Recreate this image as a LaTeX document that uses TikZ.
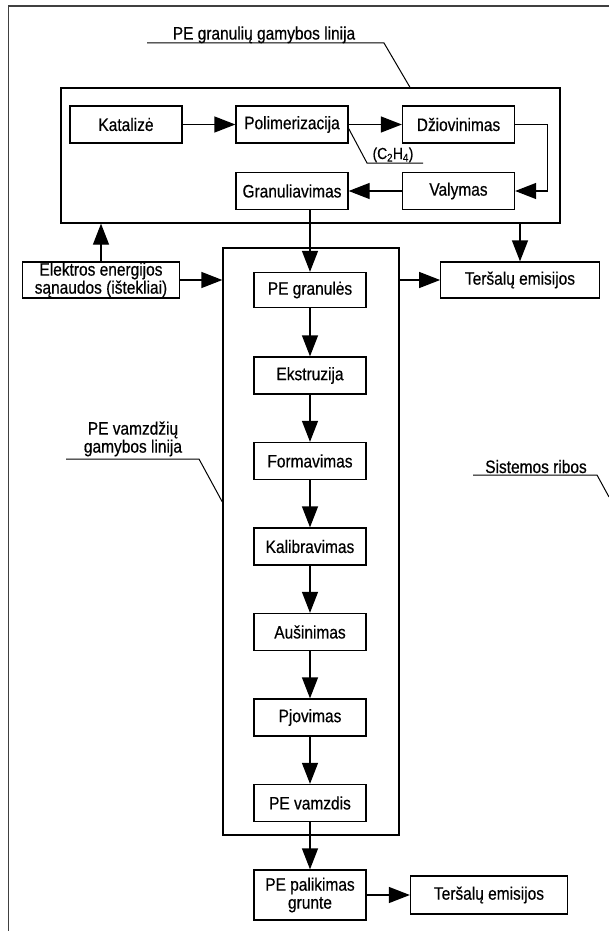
\documentclass[tikz,border=0pt]{standalone}
\usepackage{fontspec}
\setmainfont{Liberation Sans}[FakeStretch=0.86,FakeBold=0.5]
\usetikzlibrary{arrows.meta,positioning}
\tikzstyle{proc}=[draw, minimum width=112pt, minimum height=37pt, inner sep=0pt, align=center]
\tikzstyle{side}=[draw, minimum width=157pt, minimum height=36pt, inner sep=0pt, align=center]
\tikzstyle{line}=[draw, inner sep=0pt]
\tikzstyle{lbl}=[inner sep=0pt, align=center]
\tikzstyle{lead}=[line width=1pt]

\begin{document}
\begin{tikzpicture}[x=1pt,y=-1pt,line width=1.3pt,>={Triangle[length=21pt,width=16pt]},font=\fontsize{18}{18}\selectfont]
    \useasboundingbox (0,0) rectangle (609,931);
    % system boundary
    \draw[line width=1.5pt, black!75] (609,6) -- (8.5,6) -- (8.5,931);
    % granule line
    \node [proc] (kat) at (126,124.5) {Katalizė};
    \node [proc] (pol) [right of=kat,node distance=166pt] {Polimerizacija};
    \node [proc] (dz) [right of=pol,node distance=166.5pt] {Džiovinimas};
    \node [proc] (val) [below of=dz,node distance=66.5pt] {Valymas};
    \node [proc] (gran) [left of=val,node distance=166.5pt] {Granuliavimas};
    \node [line, minimum width=499pt, minimum height=135pt] (gline) at (310.5,155.5) {};
    \node [side] (elek) at (101,280) {Elektros energijos\\sąnaudos (ištekliai)};
    \node [side, minimum width=158.5pt] (ters) at (520,280) {Teršalų emisijos};
    % pipe line
    \node [line, minimum width=176pt, minimum height=587pt] (pline) at (311,541.5) {};
    \node [proc, minimum height=35pt] (granul) at (310,290) {PE granulės};
    \node [proc] (ekst) [below of=granul,node distance=85.5pt] {Ekstruzija};
    \node [proc] (form) [below of=ekst,node distance=85.5pt] {Formavimas};
    \node [proc] (kal) [below of=form,node distance=85.5pt] {Kalibravimas};
    \node [proc] (aus) [below of=kal,node distance=85.5pt] {Aušinimas};
    \node [proc] (pjov) [below of=aus,node distance=85.5pt] {Pjovimas};
    \node [proc] (vamz) [below of=pjov,node distance=85.5pt] {PE vamzdis};
    \node [proc, minimum height=50pt] (palik) [below of=vamz,node distance=92pt] {PE palikimas\\grunte};
    \node [side, minimum height=38pt] (ters2) [right of=palik,node distance=179pt] {Teršalų emisijos};
    % labels
    \node [lbl, anchor=base] (glbl) at (264,39.5) {PE granulių gamybos linija};
    \node [lbl, anchor=base, font=\fontsize{16}{16}\selectfont] (c2h4) at (393,159) {(C\textsubscript{2}H\textsubscript{4})};
    \node [lbl, anchor=south] (plbl) at (133,457) {PE vamzdžių\\gamybos linija};
    \node [lbl, anchor=base] (slbl) at (536,473) {Sistemos ribos};
    \draw[lead] (147,43) -- (384,43) -- ([xshift=99.5pt]gline.north);
    \draw[lead] ([yshift=-4pt]pol.east) -- (367,163) -- (423,163);
    \draw[lead] (66,459) -- (199,459) -- ([yshift=39.5pt]pline.west);
    \draw[lead] (473,475) -- (597,475) -- (609,497);
    \path[->]
    (kat) edge (pol)
    (pol) edge (dz)
    (val) edge (gran)
    (granul) edge (ekst)
    (ekst) edge (form)
    (form) edge (kal)
    (kal) edge (aus)
    (aus) edge (pjov)
    (pjov) edge (vamz)
    (vamz) edge (palik)
    (palik) edge (ters2);
    \draw[->] (dz.east) -- ++(32,0) |- (val.east);
    \draw[->] (gran.south -| granul.north) -- (granul.north);
    \draw[->] (elek.north) -- (elek.north |- gline.south);
    \draw[->] (elek.east) -- (elek.east -| pline.west);
    \draw[->] (pline.east |- ters.west) -- (ters.west);
    \draw[->] (ters.north |- gline.south) -- (ters.north);
\end{tikzpicture}
\end{document}
